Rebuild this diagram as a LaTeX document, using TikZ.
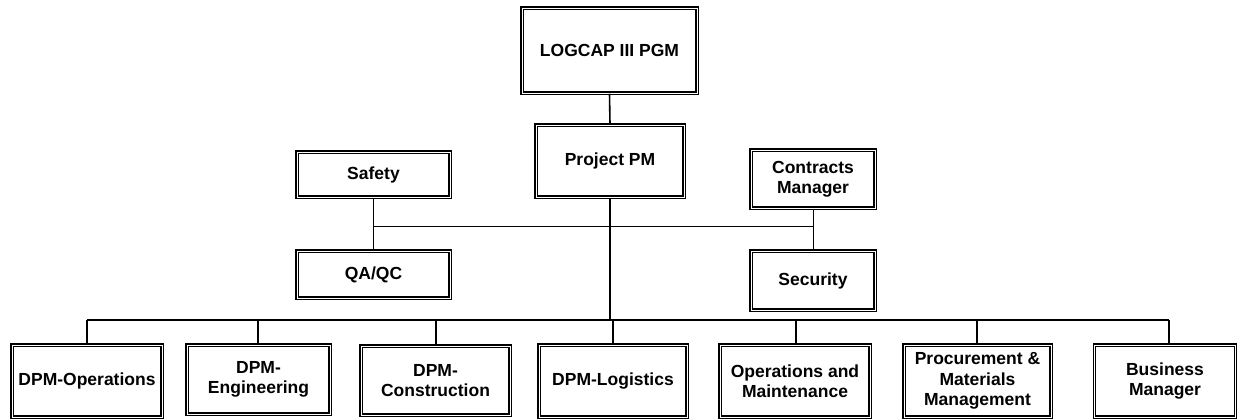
\documentclass[tikz,border=0pt]{standalone}
\usepackage{fontspec}
\setmainfont{Liberation Sans}
\begin{document}
\begin{tikzpicture}[x=1pt,y=-1pt,
  box/.style={draw=black, double=white, double distance=0.8pt, line width=1.5pt,
    inner sep=0pt, align=center, font=\bfseries\fontsize{17.5}{20.5}\selectfont},
  link/.style={draw=black, line width=1.6pt},
  thinlink/.style={draw=black, line width=1pt}]
\useasboundingbox (0,0) rectangle (1239,420);
% top
\node[box, minimum width=175pt, minimum height=85pt] (pgm) at (609.5,50.5) {LOGCAP III PGM};
\node[box, minimum width=148pt, minimum height=72pt] (pm) at (610,161) {Project PM};
\node[box, minimum width=153pt, minimum height=45pt] (safety) at (373.5,174.5) {Safety};
\node[box, minimum width=124pt, minimum height=58pt] (contracts) at (813,179) {Contracts\\Manager};
\node[box, minimum width=153pt, minimum height=47pt] (qa) at (373.5,274.5) {QA/QC};
\node[box, minimum width=124pt, minimum height=59pt] (security) at (813,280.5) {Security};
% bottom row
\node[box, minimum width=150pt, minimum height=72pt] (ops) at (87,381) {DPM-Operations};
\node[box, minimum width=143pt, minimum height=69pt] (eng) at (258.5,379.5) {DPM-\\Engineering};
\node[box, minimum width=149pt, minimum height=69pt] (con) at (435.5,380.5) {DPM-\\Construction};
\node[box, minimum width=148pt, minimum height=72pt] (log) at (613,381) {DPM-Logistics};
\node[box, minimum width=150pt, minimum height=72pt] (om) at (795,381) {Operations and\\Maintenance};
\node[box, minimum width=147pt, minimum height=72pt] (proc) at (977.5,381) {Procurement \&\\Materials\\Management};
\node[box, minimum width=141pt, minimum height=72pt] (biz) at (1165,381) {Business\\Manager};
% helper coordinates
\coordinate (hline) at (0,226);
\coordinate (busL) at (87,320);
\coordinate (busR) at (1169,320);
% connectors
\draw[link] (pgm.south) -- (pm.north);
\draw[link] (pm.south) -- (pm.south |- busL);
\draw[thinlink] (safety.south) -- (qa.north);
\draw[thinlink] (contracts.south) -- (security.north);
\draw[thinlink] (safety.south |- hline) -- (contracts.south |- hline);
\draw[link] (busL) -- (busR);
\foreach \n/\x in {ops/87, eng/258, con/436, log/613, om/796, proc/977, biz/1169}
  \draw[link] (\x,320) -- (\x,0 |- \n.north);
\end{tikzpicture}
\end{document}
